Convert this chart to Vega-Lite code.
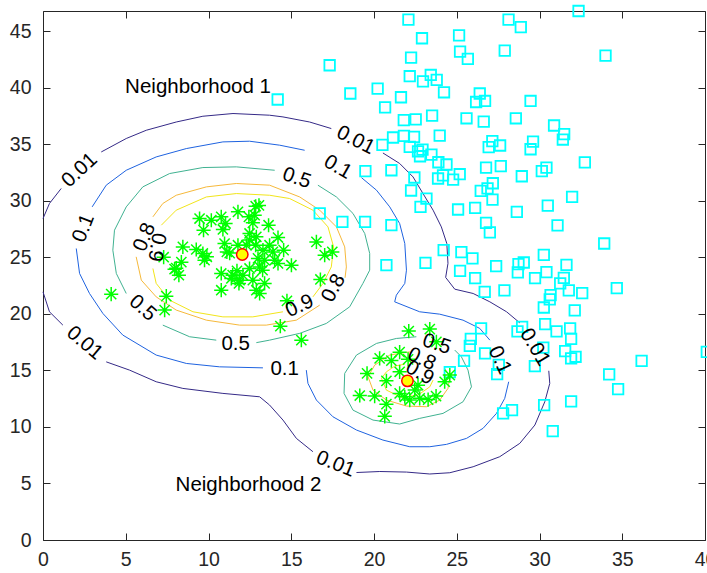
{
"$schema": "https://vega.github.io/schema/vega-lite/v6.json",
"width": 662, "height": 529, "autosize": "none",
"padding": {"left": 43, "top": 11, "right": 2, "bottom": 33},
"config": {"view": {"stroke": null}, "font": "Liberation Sans",
 "axis": {"domainColor": "#262626", "tickColor": "#262626", "labelColor": "#262626", "labelFont": "Liberation Sans", "labelFontSize": 19.5, "grid": false, "tickSize": -7, "domainWidth": 1, "tickWidth": 1, "labelFlush": false, "labelOverlap": false}},
"datasets": {
"contours": [
{"s":"o1","l":"0.01","i":0,"x":0,"y":28.44},{"s":"o1","l":"0.01","i":1,"x":0.39,"y":29.77},{"s":"o1","l":"0.01","i":2,"x":1.10,"y":31.10},
{"s":"o2","l":"0.01","i":0,"x":3.52,"y":34.33},{"s":"o2","l":"0.01","i":1,"x":5.03,"y":35.52},{"s":"o2","l":"0.01","i":2,"x":6.24,"y":36.25},{"s":"o2","l":"0.01","i":3,"x":8.05,"y":36.98},{"s":"o2","l":"0.01","i":4,"x":9.66,"y":37.49},{"s":"o2","l":"0.01","i":5,"x":11.48,"y":37.73},{"s":"o2","l":"0.01","i":6,"x":13.69,"y":37.58},{"s":"o2","l":"0.01","i":7,"x":14.50,"y":37.43},{"s":"o2","l":"0.01","i":8,"x":16.11,"y":36.98},{"s":"o2","l":"0.01","i":9,"x":17.42,"y":36.40},
{"s":"o3","l":"0.01","i":0,"x":20.54,"y":34.24},{"s":"o3","l":"0.01","i":1,"x":21.55,"y":33.31},{"s":"o3","l":"0.01","i":2,"x":22.36,"y":32.12},{"s":"o3","l":"0.01","i":3,"x":22.96,"y":30.65},{"s":"o3","l":"0.01","i":4,"x":23.57,"y":29.18},{"s":"o3","l":"0.01","i":5,"x":24.07,"y":27.70},{"s":"o3","l":"0.01","i":6,"x":24.40,"y":26.23},{"s":"o3","l":"0.01","i":7,"x":24.47,"y":24.47},{"s":"o3","l":"0.01","i":8,"x":24.33,"y":23.23},{"s":"o3","l":"0.01","i":9,"x":24.88,"y":22.19},{"s":"o3","l":"0.01","i":10,"x":25.99,"y":21.81},{"s":"o3","l":"0.01","i":11,"x":27.00,"y":21.07},{"s":"o3","l":"0.01","i":12,"x":28.01,"y":20.19},{"s":"o3","l":"0.01","i":13,"x":28.81,"y":19.21},
{"s":"o4","l":"0.01","i":0,"x":30.56,"y":14.97},{"s":"o4","l":"0.01","i":1,"x":30.62,"y":13.85},{"s":"o4","l":"0.01","i":2,"x":30.32,"y":12.23},{"s":"o4","l":"0.01","i":3,"x":29.72,"y":10.17},{"s":"o4","l":"0.01","i":4,"x":28.81,"y":8.55},{"s":"o4","l":"0.01","i":5,"x":27.60,"y":7.37},{"s":"o4","l":"0.01","i":6,"x":25.99,"y":6.48},{"s":"o4","l":"0.01","i":7,"x":24.58,"y":5.95},{"s":"o4","l":"0.01","i":8,"x":23.37,"y":5.84},{"s":"o4","l":"0.01","i":9,"x":21.96,"y":6.01},{"s":"o4","l":"0.01","i":10,"x":20.35,"y":6.06},{"s":"o4","l":"0.01","i":11,"x":18.94,"y":5.97},
{"s":"o5","l":"0.01","i":0,"x":16.31,"y":7.81},{"s":"o5","l":"0.01","i":1,"x":15.31,"y":8.99},{"s":"o5","l":"0.01","i":2,"x":14.50,"y":10.61},{"s":"o5","l":"0.01","i":3,"x":13.69,"y":11.94},{"s":"o5","l":"0.01","i":4,"x":13.09,"y":12.67},{"s":"o5","l":"0.01","i":5,"x":10.87,"y":12.97},{"s":"o5","l":"0.01","i":6,"x":8.45,"y":13.41},{"s":"o5","l":"0.01","i":7,"x":6.84,"y":14.00},{"s":"o5","l":"0.01","i":8,"x":5.23,"y":15.03},{"s":"o5","l":"0.01","i":9,"x":3.82,"y":15.76},
{"s":"o6","l":"0.01","i":0,"x":1.20,"y":19.01},{"s":"o6","l":"0.01","i":1,"x":0.39,"y":20.19},{"s":"o6","l":"0.01","i":2,"x":0,"y":21.95},
{"s":"b1","l":"0.1","i":0,"x":2.97,"y":29.47},{"s":"b1","l":"0.1","i":1,"x":3.82,"y":31.39},{"s":"b1","l":"0.1","i":2,"x":5.03,"y":32.71},{"s":"b1","l":"0.1","i":3,"x":6.84,"y":33.89},{"s":"b1","l":"0.1","i":4,"x":8.66,"y":34.63},{"s":"b1","l":"0.1","i":5,"x":10.87,"y":35.22},{"s":"b1","l":"0.1","i":6,"x":12.48,"y":35.28},{"s":"b1","l":"0.1","i":7,"x":14.30,"y":34.93},{"s":"b1","l":"0.1","i":8,"x":15.81,"y":34.48},
{"s":"b2","l":"0.1","i":0,"x":19.24,"y":32.06},{"s":"b2","l":"0.1","i":1,"x":20.15,"y":30.95},{"s":"b2","l":"0.1","i":2,"x":20.95,"y":29.47},{"s":"b2","l":"0.1","i":3,"x":21.55,"y":28.00},{"s":"b2","l":"0.1","i":4,"x":21.86,"y":26.23},{"s":"b2","l":"0.1","i":5,"x":21.96,"y":23.87},{"s":"b2","l":"0.1","i":6,"x":21.86,"y":22.70},{"s":"b2","l":"0.1","i":7,"x":21.35,"y":21.66},{"s":"b2","l":"0.1","i":8,"x":21.25,"y":21.07},{"s":"b2","l":"0.1","i":9,"x":22.76,"y":20.19},{"s":"b2","l":"0.1","i":10,"x":23.97,"y":19.98},{"s":"b2","l":"0.1","i":11,"x":25.38,"y":19.45},{"s":"b2","l":"0.1","i":12,"x":26.39,"y":18.72},{"s":"b2","l":"0.1","i":13,"x":27.00,"y":17.68},
{"s":"b3","l":"0.1","i":0,"x":28.14,"y":14.00},{"s":"b3","l":"0.1","i":1,"x":27.90,"y":12.53},{"s":"b3","l":"0.1","i":2,"x":27.40,"y":11.20},{"s":"b3","l":"0.1","i":3,"x":26.59,"y":9.88},{"s":"b3","l":"0.1","i":4,"x":25.59,"y":8.99},{"s":"b3","l":"0.1","i":5,"x":24.38,"y":8.46},{"s":"b3","l":"0.1","i":6,"x":23.37,"y":8.25},{"s":"b3","l":"0.1","i":7,"x":22.16,"y":8.25},{"s":"b3","l":"0.1","i":8,"x":20.54,"y":8.84},{"s":"b3","l":"0.1","i":9,"x":18.94,"y":9.73},{"s":"b3","l":"0.1","i":10,"x":17.52,"y":10.90},{"s":"b3","l":"0.1","i":11,"x":16.52,"y":12.38},{"s":"b3","l":"0.1","i":12,"x":16.01,"y":13.85},{"s":"b3","l":"0.1","i":13,"x":15.91,"y":15.03},
{"s":"b4","l":"0.1","i":0,"x":13.29,"y":15.23},{"s":"b4","l":"0.1","i":1,"x":10.67,"y":15.32},{"s":"b4","l":"0.1","i":2,"x":8.66,"y":15.62},{"s":"b4","l":"0.1","i":3,"x":6.84,"y":16.36},{"s":"b4","l":"0.1","i":4,"x":4.82,"y":18.13},{"s":"b4","l":"0.1","i":5,"x":3.62,"y":20.04},{"s":"b4","l":"0.1","i":6,"x":2.81,"y":21.81},{"s":"b4","l":"0.1","i":7,"x":2.21,"y":23.58},{"s":"b4","l":"0.1","i":8,"x":2.01,"y":25.79},
{"s":"g1","l":"0.5","i":0,"x":5.03,"y":21.81},{"s":"g1","l":"0.5","i":1,"x":4.43,"y":23.58},{"s":"g1","l":"0.5","i":2,"x":4.22,"y":25.64},{"s":"g1","l":"0.5","i":3,"x":4.32,"y":27.41},{"s":"g1","l":"0.5","i":4,"x":5.03,"y":29.47},{"s":"g1","l":"0.5","i":5,"x":6.03,"y":31.24},{"s":"g1","l":"0.5","i":6,"x":7.65,"y":32.42},{"s":"g1","l":"0.5","i":7,"x":9.66,"y":32.95},{"s":"g1","l":"0.5","i":8,"x":11.68,"y":33.01},{"s":"g1","l":"0.5","i":9,"x":14.00,"y":32.71},
{"s":"g2","l":"0.5","i":0,"x":16.61,"y":31.39},{"s":"g2","l":"0.5","i":1,"x":17.73,"y":30.35},{"s":"g2","l":"0.5","i":2,"x":18.73,"y":28.89},{"s":"g2","l":"0.5","i":3,"x":19.44,"y":27.12},{"s":"g2","l":"0.5","i":4,"x":19.74,"y":25.35},{"s":"g2","l":"0.5","i":5,"x":19.74,"y":23.87},{"s":"g2","l":"0.5","i":6,"x":19.33,"y":22.70},{"s":"g2","l":"0.5","i":7,"x":18.53,"y":20.63},{"s":"g2","l":"0.5","i":8,"x":17.12,"y":19.16},{"s":"g2","l":"0.5","i":9,"x":15.51,"y":18.28},{"s":"g2","l":"0.5","i":10,"x":13.69,"y":17.68},{"s":"g2","l":"0.5","i":11,"x":12.89,"y":17.46},
{"s":"g3","l":"0.5","i":0,"x":10.47,"y":17.68},{"s":"g3","l":"0.5","i":1,"x":8.86,"y":17.98},{"s":"g3","l":"0.5","i":2,"x":7.24,"y":19.01},
{"s":"g4","l":"0.5","i":0,"x":24.88,"y":16.80},{"s":"g4","l":"0.5","i":1,"x":25.28,"y":16.21},{"s":"g4","l":"0.5","i":2,"x":25.68,"y":15.03},{"s":"g4","l":"0.5","i":3,"x":25.89,"y":13.55},{"s":"g4","l":"0.5","i":4,"x":25.38,"y":12.23},{"s":"g4","l":"0.5","i":5,"x":24.17,"y":11.20},{"s":"g4","l":"0.5","i":6,"x":22.76,"y":10.76},{"s":"g4","l":"0.5","i":7,"x":21.55,"y":10.26},{"s":"g4","l":"0.5","i":8,"x":19.94,"y":10.61},{"s":"g4","l":"0.5","i":9,"x":18.73,"y":11.49},{"s":"g4","l":"0.5","i":10,"x":18.19,"y":12.97},{"s":"g4","l":"0.5","i":11,"x":18.23,"y":14.74},{"s":"g4","l":"0.5","i":12,"x":18.94,"y":16.36},{"s":"g4","l":"0.5","i":13,"x":20.15,"y":17.39},{"s":"g4","l":"0.5","i":14,"x":21.35,"y":17.83},{"s":"g4","l":"0.5","i":15,"x":22.56,"y":17.98},
{"s":"r1","l":"0.8","i":0,"x":6.64,"y":28.59},{"s":"r1","l":"0.8","i":1,"x":7.24,"y":29.77},{"s":"r1","l":"0.8","i":2,"x":8.05,"y":30.50},{"s":"r1","l":"0.8","i":3,"x":9.87,"y":31.24},{"s":"r1","l":"0.8","i":4,"x":11.68,"y":31.54},{"s":"r1","l":"0.8","i":5,"x":13.69,"y":31.39},{"s":"r1","l":"0.8","i":6,"x":15.51,"y":30.35},{"s":"r1","l":"0.8","i":7,"x":16.72,"y":29.18},{"s":"r1","l":"0.8","i":8,"x":17.73,"y":27.70},{"s":"r1","l":"0.8","i":9,"x":18.23,"y":25.93},{"s":"r1","l":"0.8","i":10,"x":18.33,"y":24.16},{"s":"r1","l":"0.8","i":11,"x":18.25,"y":23.2},
{"s":"r2","l":"0.8","i":0,"x":16.72,"y":20.78},{"s":"r2","l":"0.8","i":1,"x":15.31,"y":19.45},{"s":"r2","l":"0.8","i":2,"x":13.49,"y":19.01},{"s":"r2","l":"0.8","i":3,"x":11.88,"y":19.01},{"s":"r2","l":"0.8","i":4,"x":9.87,"y":19.45},{"s":"r2","l":"0.8","i":5,"x":8.05,"y":20.34},{"s":"r2","l":"0.8","i":6,"x":6.84,"y":21.51},{"s":"r2","l":"0.8","i":7,"x":5.94,"y":22.99},{"s":"r2","l":"0.8","i":8,"x":5.63,"y":25.05},
{"s":"r3","l":"0.8","i":0,"x":22.16,"y":16.65},{"s":"r3","l":"0.8","i":1,"x":20.95,"y":16.36},{"s":"r3","l":"0.8","i":2,"x":20.04,"y":15.47},{"s":"r3","l":"0.8","i":3,"x":19.64,"y":14.44},{"s":"r3","l":"0.8","i":4,"x":19.94,"y":13.26},{"s":"r3","l":"0.8","i":5,"x":20.75,"y":12.38},{"s":"r3","l":"0.8","i":6,"x":21.96,"y":11.85},{"s":"r3","l":"0.8","i":7,"x":23.17,"y":11.79},{"s":"r3","l":"0.8","i":8,"x":23.97,"y":12.38},{"s":"r3","l":"0.8","i":9,"x":24.47,"y":13.41},{"s":"r3","l":"0.8","i":10,"x":24.58,"y":14.44},{"s":"r3","l":"0.8","i":11,"x":24.27,"y":15.18},
{"s":"y1","l":"0.9","i":0,"x":7.15,"y":27.85},{"s":"y1","l":"0.9","i":1,"x":8.05,"y":29.18},{"s":"y1","l":"0.9","i":2,"x":9.87,"y":30.35},{"s":"y1","l":"0.9","i":3,"x":11.68,"y":30.65},{"s":"y1","l":"0.9","i":4,"x":13.69,"y":30.50},{"s":"y1","l":"0.9","i":5,"x":14.90,"y":30.21},{"s":"y1","l":"0.9","i":6,"x":16.31,"y":29.18},{"s":"y1","l":"0.9","i":7,"x":17.22,"y":27.70},{"s":"y1","l":"0.9","i":8,"x":17.56,"y":25.93},{"s":"y1","l":"0.9","i":9,"x":17.42,"y":24.16},{"s":"y1","l":"0.9","i":10,"x":16.92,"y":22.70},{"s":"y1","l":"0.9","i":11,"x":16.31,"y":21.51},
{"s":"y2","l":"0.9","i":0,"x":14.50,"y":20.19},{"s":"y2","l":"0.9","i":1,"x":12.68,"y":19.74},{"s":"y2","l":"0.9","i":2,"x":10.87,"y":19.74},{"s":"y2","l":"0.9","i":3,"x":9.06,"y":20.19},{"s":"y2","l":"0.9","i":4,"x":7.65,"y":21.22},{"s":"y2","l":"0.9","i":5,"x":6.84,"y":22.70},{"s":"y2","l":"0.9","i":6,"x":6.64,"y":24.02},
{"s":"y3","l":"0.9","i":0,"x":23.57,"y":14.15},{"s":"y3","l":"0.9","i":1,"x":23.37,"y":13.55},{"s":"y3","l":"0.9","i":2,"x":22.66,"y":12.82},{"s":"y3","l":"0.9","i":3,"x":21.66,"y":12.62},{"s":"y3","l":"0.9","i":4,"x":20.75,"y":13.26},{"s":"y3","l":"0.9","i":5,"x":20.45,"y":14.30},{"s":"y3","l":"0.9","i":6,"x":20.75,"y":14.88},{"s":"y3","l":"0.9","i":7,"x":21.25,"y":15.38},{"s":"y3","l":"0.9","i":8,"x":21.86,"y":15.56}
],
"labels": [
{"t":"0.01","x":2.21,"y":32.71,"a":-43},{"t":"0.1","x":2.45,"y":27.59,"a":-69},{"t":"0.8","x":6.14,"y":26.79,"a":-68},{"t":"0.9","x":6.86,"y":25.91,"a":100},
{"t":"0.5","x":15.33,"y":32.01,"a":19},{"t":"0.1","x":17.81,"y":32.98,"a":30},{"t":"0.01","x":18.89,"y":35.37,"a":27},
{"t":"0.8","x":17.56,"y":22.28,"a":-62},{"t":"0.9","x":15.51,"y":20.69,"a":-25},{"t":"0.5","x":6.02,"y":20.51,"a":41},{"t":"0.01","x":2.51,"y":17.42,"a":40},
{"t":"0.5","x":11.64,"y":17.33,"a":0},{"t":"0.1","x":14.60,"y":15.12,"a":0},{"t":"0.01","x":17.68,"y":6.72,"a":22},{"t":"0.01","x":29.72,"y":17.06,"a":59},{"t":"0.1","x":27.60,"y":15.92,"a":65},
{"t":"0.5","x":23.79,"y":17.33,"a":18},{"t":"0.8","x":22.88,"y":16.0,"a":25},{"t":"0.9","x":22.76,"y":14.77,"a":30}
],
"titles": [{"t":"Neighborhood 1","x":9.37,"y":40.05},{"t":"Neighborhood 2","x":12.42,"y":4.86}],
"centers": [{"x":12.04,"y":25.26},{"x":22.02,"y":14.08}],
"stars": [
{"x":4.12,"y":21.75},{"x":7.29,"y":25.02},{"x":7.45,"y":21.57},{"x":7.35,"y":20.34},{"x":7.95,"y":23.96},{"x":8.21,"y":23.43},{"x":8.36,"y":24.58},{"x":8.45,"y":25.93},{"x":9.26,"y":25.70},{"x":9.66,"y":25.35},
{"x":9.90,"y":25.05},{"x":9.76,"y":24.76},{"x":9.46,"y":28.44},{"x":9.70,"y":27.41},{"x":10.17,"y":28.29},{"x":10.77,"y":28.59},{"x":11.03,"y":28.00},{"x":10.87,"y":27.47},{"x":11.78,"y":29.03},{"x":12.44,"y":28.59},
{"x":12.85,"y":29.53},{"x":13.05,"y":29.6},{"x":12.68,"y":28.06},{"x":13.63,"y":27.85},{"x":12.48,"y":27.12},{"x":12.89,"y":26.82},{"x":12.48,"y":26.53},{"x":14.20,"y":26.76},{"x":10.97,"y":26.23},{"x":11.11,"y":25.49},
{"x":11.78,"y":26.08},{"x":12.29,"y":26.08},{"x":12.85,"y":26.08},{"x":13.29,"y":25.64},{"x":13.69,"y":26.08},{"x":13.89,"y":25.49},{"x":14.54,"y":25.64},{"x":12.99,"y":24.91},{"x":13.39,"y":24.76},{"x":14.00,"y":24.76},
{"x":14.20,"y":24.47},{"x":15.01,"y":24.31},{"x":10.77,"y":23.58},{"x":11.38,"y":23.14},{"x":11.72,"y":23.81},{"x":11.84,"y":22.70},{"x":12.08,"y":23.43},{"x":12.48,"y":24.02},{"x":12.68,"y":22.99},{"x":13.09,"y":24.16},
{"x":13.39,"y":22.70},{"x":12.89,"y":22.10},{"x":13.09,"y":21.81},{"x":10.77,"y":22.10},{"x":16.52,"y":26.37},{"x":17.02,"y":25.20},{"x":17.48,"y":25.49},{"x":16.76,"y":23.05},{"x":14.74,"y":21.16},{"x":14.34,"y":18.92},
{"x":15.61,"y":17.68},{"x":12.79,"y":28.74},{"x":8.05,"y":24.05},{"x":11.28,"y":25.38},{"x":11.46,"y":23.43},{"x":11.88,"y":22.99},{"x":13.27,"y":23.87},
{"x":22.10,"y":18.48},{"x":23.37,"y":18.66},{"x":23.77,"y":17.53},{"x":21.55,"y":16.62},{"x":20.34,"y":16.07},{"x":21.05,"y":15.87},{"x":22.06,"y":15.98},{"x":19.58,"y":14.74},{"x":20.75,"y":14.08},{"x":21.55,"y":14.88},
{"x":22.66,"y":13.70},{"x":22.46,"y":13.26},{"x":24.58,"y":14.59},{"x":24.27,"y":14.00},{"x":19.14,"y":12.78},{"x":20.04,"y":12.73},{"x":21.55,"y":12.97},{"x":21.86,"y":12.67},{"x":22.76,"y":12.53},{"x":23.27,"y":12.42},
{"x":23.75,"y":12.73},{"x":20.75,"y":12.02},{"x":20.65,"y":10.94},{"x":22.16,"y":12.38}
],
"squares": [
{"x":22.08,"y":46.04},{"x":22.90,"y":44.39},{"x":25.14,"y":44.65},{"x":25.20,"y":43.21},{"x":25.67,"y":42.56},{"x":17.32,"y":42.00},{"x":22.24,"y":42.68},{"x":22.16,"y":41.03},{"x":23.43,"y":41.14},{"x":22.96,"y":40.58},
{"x":23.79,"y":40.70},{"x":24.23,"y":39.61},{"x":18.57,"y":39.50},{"x":20.22,"y":39.94},{"x":21.63,"y":39.17},{"x":20.67,"y":38.28},{"x":26.39,"y":39.50},{"x":26.17,"y":38.75},{"x":26.71,"y":38.84},{"x":21.80,"y":37.14},
{"x":22.52,"y":37.22},{"x":23.51,"y":37.55},{"x":25.59,"y":37.31},{"x":26.63,"y":37.02},{"x":21.15,"y":35.61},{"x":21.81,"y":35.75},{"x":22.42,"y":35.66},{"x":23.97,"y":35.78},{"x":27.15,"y":35.28},{"x":32.36,"y":46.80},
{"x":28.13,"y":46.04},{"x":28.87,"y":45.38},{"x":27.90,"y":43.30},{"x":33.99,"y":42.86},{"x":29.46,"y":38.84},{"x":28.57,"y":37.31},{"x":30.88,"y":36.67},{"x":31.49,"y":35.90},{"x":31.41,"y":35.43},{"x":26.93,"y":34.75},
{"x":27.62,"y":34.90},{"x":29.61,"y":35.25},{"x":29.46,"y":34.57},{"x":32.74,"y":33.40},{"x":26.77,"y":32.95},{"x":27.66,"y":33.07},{"x":30.42,"y":32.95},{"x":30.14,"y":32.63},{"x":28.93,"y":32.18},{"x":27.18,"y":31.56},
{"x":14.18,"y":38.97},{"x":22.16,"y":34.77},{"x":22.66,"y":34.39},{"x":22.93,"y":34.54},{"x":22.78,"y":33.95},{"x":20.51,"y":34.95},{"x":23.47,"y":34.10},{"x":23.89,"y":33.42},{"x":24.38,"y":33.22},{"x":24.17,"y":32.25},
{"x":23.87,"y":31.98},{"x":19.48,"y":32.63},{"x":21.05,"y":32.71},{"x":22.44,"y":32.07},{"x":22.24,"y":30.92},{"x":23.17,"y":30.21},{"x":22.81,"y":29.47},{"x":16.72,"y":28.89},{"x":19.46,"y":28.14},{"x":21.05,"y":27.85},
{"x":24.21,"y":25.64},{"x":20.75,"y":24.31},{"x":23.11,"y":24.52},{"x":18.09,"y":28.14},{"x":24.78,"y":31.89},{"x":25.18,"y":32.36},{"x":25.08,"y":29.24},{"x":26.11,"y":29.38},{"x":26.45,"y":30.88},{"x":26.86,"y":31.10},
{"x":27.16,"y":30.12},{"x":28.63,"y":29.03},{"x":30.50,"y":29.59},{"x":31.97,"y":30.35},{"x":26.77,"y":28.06},{"x":27.00,"y":27.21},{"x":31.09,"y":27.83},{"x":33.91,"y":26.23},{"x":25.28,"y":25.46},{"x":25.95,"y":24.91},
{"x":27.38,"y":24.23},{"x":25.20,"y":23.81},{"x":26.11,"y":23.17},{"x":26.69,"y":21.95},{"x":27.88,"y":22.08},{"x":28.73,"y":24.40},{"x":29.05,"y":24.55},{"x":28.69,"y":23.67},{"x":30.26,"y":25.23},{"x":31.63,"y":24.34},
{"x":30.42,"y":23.70},{"x":29.73,"y":23.17},{"x":31.47,"y":23.19},{"x":31.25,"y":22.70},{"x":31.77,"y":22.08},{"x":32.58,"y":21.84},{"x":34.67,"y":22.28},{"x":30.67,"y":21.66},{"x":30.62,"y":21.28},{"x":30.26,"y":20.57},
{"x":32.13,"y":20.31},{"x":26.47,"y":18.72},{"x":28.67,"y":18.45},{"x":28.95,"y":18.86},{"x":30.34,"y":19.10},{"x":31.03,"y":18.45},{"x":31.85,"y":18.72},{"x":31.91,"y":17.80},{"x":25.85,"y":17.80},{"x":25.79,"y":17.18},
{"x":30.23,"y":17.02},{"x":31.55,"y":16.71},{"x":25.44,"y":15.85},{"x":26.71,"y":16.51},{"x":27.54,"y":15.50},{"x":27.44,"y":14.68},{"x":29.72,"y":15.38},{"x":31.91,"y":16.07},{"x":32.18,"y":16.21},{"x":36.17,"y":15.85},
{"x":34.21,"y":14.65},{"x":34.75,"y":13.35},{"x":27.80,"y":11.20},{"x":28.34,"y":11.49},{"x":30.28,"y":11.94},{"x":31.91,"y":12.26},{"x":30.80,"y":9.64},{"x":40.11,"y":16.65},{"x":24.58,"y":14.85}
]
},
"layer": [
 {"data": {"name": "contours"},
  "mark": {"type": "line", "strokeWidth": 1, "interpolate": "linear"},
  "encoding": {
   "x": {"field": "x", "type": "quantitative", "scale": {"domain": [0, 40], "nice": false, "zero": false}, "axis": {"orient": "bottom", "title": null, "values": [0,5,10,15,20,25,30,35,40], "labelPadding": 17}},
   "y": {"field": "y", "type": "quantitative", "scale": {"domain": [0, 46.8], "nice": false, "zero": false}, "axis": {"orient": "left", "title": null, "values": [0,5,10,15,20,25,30,35,40,45], "labelPadding": 19}},
   "color": {"field": "l", "type": "nominal", "scale": {"domain": ["0.01","0.1","0.5","0.8","0.9"], "range": ["#352a87","#1f63e0","#40b291","#f6b93b","#f2e51a"]}, "legend": null},
   "detail": {"field": "s"},
   "order": {"field": "i", "type": "quantitative"}
  }},
 {"data": {"name": "squares"},
  "mark": {"type": "point", "shape": "square", "filled": false, "stroke": "#00ffff", "strokeWidth": 1.8, "size": 110, "opacity": 1},
  "encoding": {
   "x": {"field": "x", "type": "quantitative", "scale": {"domain": [0, 40], "nice": false, "zero": false}, "axis": {"orient": "top", "title": null, "labels": false, "values": [0,5,10,15,20,25,30,35,40]}},
   "y": {"field": "y", "type": "quantitative", "scale": {"domain": [0, 46.8], "nice": false, "zero": false}, "axis": {"orient": "right", "title": null, "labels": false, "values": [0,5,10,15,20,25,30,35,40,45]}}
  }},
 {"data": {"name": "stars"},
  "mark": {"type": "point", "shape": "M0,-1L0,1M-1,0L1,0M-0.72,-0.72L0.72,0.72M-0.72,0.72L0.72,-0.72", "filled": false, "stroke": "#00ff00", "strokeWidth": 1.5, "size": 200, "opacity": 1},
  "encoding": {
   "x": {"field": "x", "type": "quantitative", "scale": {"domain": [0, 40], "nice": false, "zero": false}, "axis": null},
   "y": {"field": "y", "type": "quantitative", "scale": {"domain": [0, 46.8], "nice": false, "zero": false}, "axis": null}
  }},
 {"data": {"name": "labels"},
  "mark": {"type": "text", "fontSize": 20.5, "font": "Liberation Sans", "color": "#000000", "align": "center", "baseline": "middle"},
  "encoding": {
   "x": {"field": "x", "type": "quantitative", "scale": {"domain": [0, 40], "nice": false, "zero": false}, "axis": null},
   "y": {"field": "y", "type": "quantitative", "scale": {"domain": [0, 46.8], "nice": false, "zero": false}, "axis": null},
   "text": {"field": "t"},
   "angle": {"field": "a", "type": "quantitative", "scale": null}
  }},
 {"data": {"name": "centers"},
  "mark": {"type": "point", "shape": "circle", "filled": true, "fill": "#ffff00", "stroke": "#ff0000", "strokeWidth": 1.5, "size": 130, "opacity": 1},
  "encoding": {
   "x": {"field": "x", "type": "quantitative", "scale": {"domain": [0, 40], "nice": false, "zero": false}, "axis": null},
   "y": {"field": "y", "type": "quantitative", "scale": {"domain": [0, 46.8], "nice": false, "zero": false}, "axis": null}
  }},
 {"data": {"name": "titles"},
  "mark": {"type": "text", "fontSize": 20.5, "font": "Liberation Sans", "color": "#000000", "align": "center", "baseline": "middle"},
  "encoding": {
   "x": {"field": "x", "type": "quantitative", "scale": {"domain": [0, 40], "nice": false, "zero": false}, "axis": null},
   "y": {"field": "y", "type": "quantitative", "scale": {"domain": [0, 46.8], "nice": false, "zero": false}, "axis": null},
   "text": {"field": "t"}
  }}
],
"resolve": {"axis": {"x": "independent", "y": "independent"}}
}
